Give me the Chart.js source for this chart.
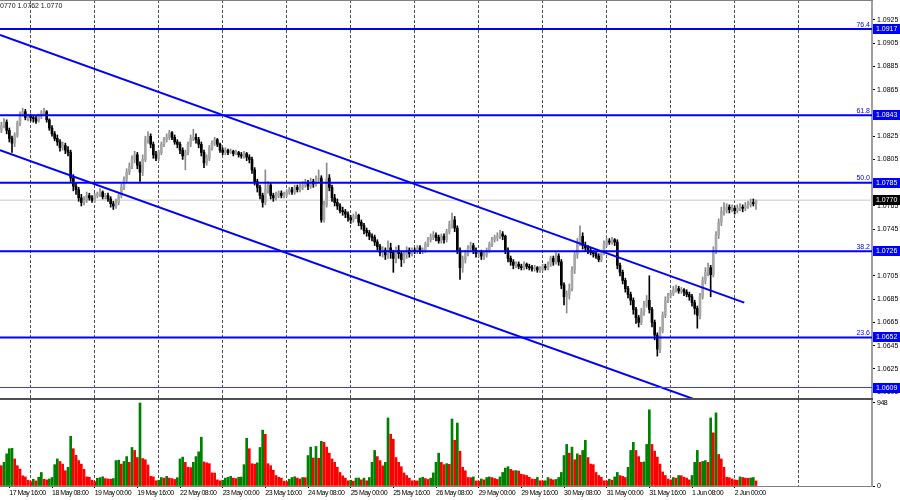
<!DOCTYPE html>
<html>
<head>
<meta charset="utf-8">
<script src="https://cdn.jsdelivr.net/npm/chart.js@4.4.1/dist/chart.umd.min.js"></script>
<style>
  body { margin: 0; background: #fff; }
  #wrap { position: relative; width: 900px; height: 500px; overflow: hidden; background: #fff; }
  #priceChart { position: absolute; left: 0; top: 0; }
  #volChart { position: absolute; left: 0; top: 400px; }
  #sep { position: absolute; left: 0; top: 398px; width: 873px; height: 2px; background: #505050; }
  #topline { position: absolute; left: 0; top: 0; width: 873px; height: 1px; background: #808080; }
</style>
</head>
<body>
<div id="wrap">
  <canvas id="priceChart" width="900" height="398"></canvas>
  <div id="sep"></div>
  <div id="topline"></div>
  <canvas id="volChart" width="900" height="100"></canvas>
</div>
<script>
// EURUSD H1, 17 May 13:00 .. 2 Jun 08:00 (hour index 0 = 18 May 00:00, weekends skipped)
const firstHour = -11;
const firstOpen = 1.0830;

const close = [
  1.0834,1.0837,1.0830,1.0823,1.0819,1.0826,1.0836,1.0844,1.0846,1.0841,1.0842,
  1.0841,1.0840,1.0838,1.0842,1.0845,1.0846,1.0839,1.0832,1.0827,1.0823,1.0820,1.0815,1.0817,1.0813,1.0811,1.0789,1.0782,1.0779,1.0772,1.0768,1.0770,1.0774,1.0772,1.0770,
  1.0774,1.0775,1.0777,1.0773,1.0774,1.0771,1.0767,1.0765,1.0768,1.0774,1.0781,1.0788,1.0794,1.0799,1.0805,1.0809,1.0800,1.0794,1.0805,1.0822,1.0825,1.0818,1.0809,1.0806,
  1.0811,1.0818,1.0822,1.0824,1.0828,1.0824,1.0820,1.0818,1.0813,1.0808,1.0811,1.0818,1.0823,1.0824,1.0822,1.0818,1.0811,1.0802,1.0806,1.0815,1.0819,1.0822,1.0818,1.0813,
  1.0811,1.0813,1.0811,1.0812,1.0810,1.0811,1.0809,1.0808,1.0810,1.0807,1.0805,1.0796,1.0786,1.0781,1.0774,1.0768,1.0779,1.0783,1.0774,1.0772,1.0774,1.0776,1.0774,1.0775,
  1.0777,1.0779,1.0777,1.0781,1.0779,1.0781,1.0783,1.0785,1.0782,1.0786,1.0784,1.0788,1.0789,1.0753,1.0766,1.0789,1.0781,1.0772,1.0768,1.0765,1.0761,1.0760,1.0758,1.0755,
  1.0753,1.0756,1.0757,1.0751,1.0748,1.0744,1.0742,1.0739,1.0738,1.0734,1.0730,1.0725,1.0727,1.0723,1.0729,1.0725,1.0720,1.0727,1.0724,1.0719,1.0723,1.0727,1.0724,1.0727,
  1.0726,1.0729,1.0726,1.0727,1.0732,1.0736,1.0738,1.0740,1.0738,1.0735,1.0739,1.0736,1.0743,1.0749,1.0753,1.0746,1.0727,1.0712,1.0719,1.0724,1.0729,1.0731,1.0727,1.0724,
  1.0725,1.0722,1.0723,1.0727,1.0732,1.0736,1.0738,1.0739,1.0741,1.0739,1.0727,1.0720,1.0717,1.0714,1.0715,1.0713,1.0712,1.0715,1.0713,1.0712,1.0711,1.0712,1.0710,1.0711,
  1.0713,1.0712,1.0715,1.0720,1.0717,1.0722,1.0717,1.0697,1.0687,1.0689,1.0694,1.0710,1.0723,1.0734,1.0739,1.0731,1.0729,1.0727,1.0725,1.0724,1.0722,1.0719,1.0725,1.0732,
  1.0735,1.0734,1.0736,1.0734,1.0714,1.0708,1.0701,1.0694,1.0689,1.0684,1.0676,1.0669,1.0665,1.0674,1.0680,1.0684,1.0676,1.0665,1.0654,1.0642,1.0658,1.0671,1.0684,1.0688,
  1.0690,1.0693,1.0694,1.0692,1.0693,1.0691,1.0689,1.0687,1.0682,1.0677,1.0671,1.0687,1.0701,1.0708,1.0712,1.0706,1.0727,1.0740,1.0751,1.0760,1.0761,1.0764,1.0762,1.0763,
  1.0761,1.0763,1.0764,1.0763,1.0765,1.0766,1.0768,1.0767,1.0770
];

const high = [
  1.0837,1.0840,1.0839,1.0832,1.0825,1.0828,1.0838,1.0846,1.0849,1.0848,1.0844,
  1.0844,1.0843,1.0842,1.0844,1.0847,1.0849,1.0847,1.0840,1.0834,1.0829,1.0826,1.0822,1.0820,1.0819,1.0816,1.0813,1.0792,1.0785,1.0781,1.0775,1.0773,1.0777,1.0776,1.0774,
  1.0776,1.0777,1.0780,1.0778,1.0776,1.0776,1.0773,1.0769,1.0771,1.0776,1.0784,1.0790,1.0797,1.0802,1.0808,1.0812,1.0811,1.0803,1.0809,1.0825,1.0829,1.0827,1.0820,1.0812,
  1.0813,1.0820,1.0824,1.0827,1.0830,1.0829,1.0826,1.0822,1.0820,1.0815,1.0813,1.0820,1.0826,1.0831,1.0827,1.0824,1.0820,1.0813,1.0809,1.0817,1.0821,1.0824,1.0823,1.0819,
  1.0815,1.0815,1.0814,1.0814,1.0813,1.0813,1.0812,1.0811,1.0812,1.0811,1.0809,1.0807,1.0798,1.0788,1.0783,1.0776,1.0796,1.0786,1.0785,1.0776,1.0777,1.0778,1.0778,1.0777,
  1.0779,1.0781,1.0781,1.0783,1.0783,1.0784,1.0786,1.0788,1.0787,1.0789,1.0788,1.0791,1.0796,1.0791,1.0769,1.0802,1.0792,1.0783,1.0775,1.0771,1.0767,1.0764,1.0762,1.0760,
  1.0757,1.0758,1.0760,1.0758,1.0753,1.0750,1.0746,1.0744,1.0741,1.0740,1.0736,1.0732,1.0730,1.0729,1.0735,1.0733,1.0727,1.0730,1.0731,1.0726,1.0726,1.0730,1.0729,1.0729,
  1.0729,1.0731,1.0731,1.0729,1.0734,1.0738,1.0741,1.0743,1.0742,1.0740,1.0741,1.0741,1.0745,1.0752,1.0759,1.0756,1.0748,1.0729,1.0722,1.0727,1.0731,1.0734,1.0733,1.0729,
  1.0727,1.0727,1.0726,1.0729,1.0734,1.0738,1.0740,1.0742,1.0744,1.0743,1.0740,1.0729,1.0722,1.0719,1.0717,1.0717,1.0715,1.0717,1.0716,1.0715,1.0714,1.0714,1.0713,1.0713,
  1.0715,1.0715,1.0717,1.0722,1.0722,1.0725,1.0724,1.0719,1.0699,1.0692,1.0698,1.0713,1.0726,1.0737,1.0748,1.0742,1.0734,1.0731,1.0729,1.0727,1.0726,1.0724,1.0727,1.0735,
  1.0737,1.0737,1.0738,1.0737,1.0736,1.0716,1.0710,1.0703,1.0696,1.0691,1.0686,1.0678,1.0671,1.0677,1.0683,1.0688,1.0705,1.0678,1.0667,1.0656,1.0661,1.0674,1.0687,1.0690,
  1.0692,1.0696,1.0697,1.0696,1.0695,1.0694,1.0693,1.0691,1.0689,1.0684,1.0679,1.0690,1.0704,1.0712,1.0716,1.0714,1.0730,1.0743,1.0754,1.0764,1.0768,1.0767,1.0766,1.0766,
  1.0765,1.0766,1.0767,1.0766,1.0768,1.0769,1.0771,1.0771,1.0770
];

const low = [
  1.0828,1.0832,1.0827,1.0820,1.0811,1.0816,1.0824,1.0834,1.0842,1.0839,1.0838,
  1.0838,1.0837,1.0836,1.0837,1.0840,1.0843,1.0837,1.0830,1.0825,1.0821,1.0817,1.0812,1.0813,1.0810,1.0808,1.0786,1.0778,1.0775,1.0769,1.0765,1.0766,1.0768,1.0770,1.0768,
  1.0768,1.0772,1.0773,1.0771,1.0771,1.0769,1.0764,1.0762,1.0763,1.0766,1.0772,1.0779,1.0786,1.0792,1.0797,1.0802,1.0797,1.0786,1.0791,1.0803,1.0819,1.0815,1.0806,1.0804,
  1.0804,1.0809,1.0816,1.0820,1.0822,1.0822,1.0818,1.0815,1.0810,1.0805,1.0796,1.0809,1.0816,1.0821,1.0819,1.0815,1.0808,1.0798,1.0800,1.0804,1.0813,1.0817,1.0816,1.0811,
  1.0809,1.0809,1.0809,1.0810,1.0808,1.0809,1.0807,1.0806,1.0806,1.0804,1.0802,1.0793,1.0783,1.0777,1.0771,1.0764,1.0766,1.0776,1.0771,1.0769,1.0770,1.0772,1.0772,1.0772,
  1.0773,1.0775,1.0775,1.0775,1.0777,1.0777,1.0779,1.0781,1.0779,1.0780,1.0781,1.0782,1.0785,1.0751,1.0751,1.0764,1.0778,1.0769,1.0765,1.0762,1.0759,1.0757,1.0755,1.0752,
  1.0750,1.0751,1.0754,1.0748,1.0745,1.0741,1.0739,1.0736,1.0735,1.0731,1.0727,1.0722,1.0721,1.0719,1.0720,1.0720,1.0708,1.0716,1.0720,1.0713,1.0716,1.0720,1.0721,1.0722,
  1.0724,1.0724,1.0724,1.0724,1.0725,1.0730,1.0734,1.0736,1.0735,1.0733,1.0733,1.0733,1.0734,1.0741,1.0746,1.0743,1.0724,1.0702,1.0708,1.0716,1.0722,1.0727,1.0724,1.0721,
  1.0721,1.0719,1.0719,1.0721,1.0725,1.0730,1.0734,1.0735,1.0737,1.0736,1.0724,1.0717,1.0714,1.0711,1.0712,1.0711,1.0710,1.0710,1.0711,1.0710,1.0709,1.0709,1.0708,1.0708,
  1.0709,1.0710,1.0710,1.0713,1.0714,1.0715,1.0714,1.0694,1.0680,1.0673,1.0685,1.0692,1.0707,1.0720,1.0731,1.0728,1.0726,1.0724,1.0723,1.0721,1.0720,1.0717,1.0717,1.0723,
  1.0730,1.0732,1.0732,1.0731,1.0711,1.0705,1.0698,1.0691,1.0686,1.0680,1.0672,1.0664,1.0661,1.0663,1.0671,1.0678,1.0673,1.0661,1.0650,1.0636,1.0639,1.0656,1.0669,1.0682,
  1.0686,1.0688,1.0691,1.0690,1.0690,1.0688,1.0687,1.0684,1.0679,1.0672,1.0660,1.0668,1.0685,1.0698,1.0705,1.0687,1.0704,1.0724,1.0737,1.0748,1.0757,1.0759,1.0759,1.0760,
  1.0758,1.0759,1.0761,1.0760,1.0761,1.0763,1.0764,1.0765,1.0762
];

const volume = [
  232,270,367,426,430,309,232,193,116,104,66,
  50,77,58,100,155,77,70,80,97,244,309,280,250,174,213,568,426,350,290,250,190,104,100,66,
  50,88,95,105,85,80,78,85,290,295,250,280,336,270,440,406,325,948,313,300,240,110,105,60,
  66,97,90,110,90,85,75,95,309,330,270,213,210,270,336,390,557,275,265,255,150,148,70,60,
  66,90,100,110,90,85,100,102,244,545,426,255,250,265,440,638,591,255,232,180,120,100,90,55,
  50,77,97,105,90,80,97,95,348,444,320,452,317,510,499,444,375,309,270,213,155,116,90,60,
  66,55,90,92,70,90,60,97,270,406,336,290,230,270,777,591,534,325,270,220,150,120,90,60,
  58,58,90,100,85,75,90,150,270,375,270,244,255,248,765,522,719,398,213,174,97,95,104,58,
  55,80,70,97,104,97,85,75,104,155,205,220,190,174,176,170,135,128,120,100,80,77,97,60,
  58,60,97,80,70,75,97,155,348,475,375,444,300,367,352,406,522,325,250,244,155,120,100,60,
  58,77,66,104,155,120,110,97,213,406,499,406,336,270,275,475,870,475,398,330,250,160,120,80,
  70,97,90,120,118,100,90,70,120,270,406,270,280,290,270,777,607,835,360,309,213,100,95,80,
  70,66,104,97,90,88,92,97,58
];

// axis ticks and labels
const priceTicks = [1.0605,1.0625,1.0645,1.0665,1.0685,1.0705,1.0725,1.0745,1.0765,1.0785,1.0805,1.0825,1.0845,1.0865,1.0885,1.0905,1.0925];
const dayStarts = [0,24,48,72,96,120,144,168,192,216,240,264,288];
const timeTicks = [-8,8,24,40,56,72,88,104,120,136,152,168,184,200,216,232,248,264];
const timeLabels = ['17 May 16:00','18 May 08:00','19 May 00:00','19 May 16:00','22 May 08:00','23 May 00:00',
  '23 May 16:00','24 May 08:00','25 May 00:00','25 May 16:00','26 May 08:00','29 May 00:00','29 May 16:00',
  '30 May 08:00','31 May 00:00','31 May 16:00','1 Jun 08:00','2 Jun 00:00'];

// drawn objects
const fibLevels = [1.0917, 1.0843, 1.0785, 1.0726, 1.0652];
const fibNames = ['76.4', '61.8', '50.0', '38.2', '23.6'];
const supportLevel = 1.0609;
const lastPrice = 1.0770;
const upperTrendX = [-11.5, 267.6];
const upperTrendY = [1.0912, 1.0682];
const lowerTrendX = [-11.5, 250];
const lowerTrendY = [1.0813, 1.0598];

const xMin = -11.5;
const xMax = 315.5;
const FONT = "'Liberation Sans', Arial, sans-serif";
const FS = 7;

const hours = close.map((c, i) => firstHour + i);
const open = close.map((c, i) => (i === 0 ? firstOpen : close[i - 1]));
const up = close.map((c, i) => c >= open[i]);

function hLine(level, color, width, order) {
    return {
        type: 'line',
        data: [{ x: xMin, y: level }, { x: xMax, y: level }],
        borderColor: color,
        borderWidth: width,
        pointRadius: 0,
        order: order
    };
}

function trendLine(xs, ys) {
    return {
        type: 'line',
        data: [{ x: xs[0], y: ys[0] }, { x: xs[1], y: ys[1] }],
        borderColor: '#0000ff',
        borderWidth: 2,
        pointRadius: 0,
        order: 0
    };
}

function gridAxis() {
    return {
        type: 'linear', position: 'bottom', min: xMin, max: xMax, offset: false,
        afterBuildTicks: s => { s.ticks = dayStarts.map(v => ({ value: v })); },
        afterFit: s => { s.height = 0; s.paddingLeft = 0; s.paddingRight = 0; },
        ticks: { display: false },
        grid: { color: '#505050', lineWidth: 1, drawTicks: false, offset: false },
        border: { display: false, dash: [3, 2] }
    };
}

// tighter lettering, like the terminal's small axis font
const tightText = {
    id: 'tightText',
    beforeDraw(chart) {
        chart.ctx.letterSpacing = '-0.5px';
    }
};

const overlay = {
    id: 'overlay',
    afterDraw(chart) {
        const { ctx, chartArea } = chart;
        const y = chart.scales.y;
        ctx.save();
        ctx.font = FS + 'px ' + FONT;

        ctx.fillStyle = '#0000ff';
        ctx.textAlign = 'right';
        ctx.textBaseline = 'bottom';
        fibLevels.forEach((lv, i) => {
            ctx.fillText(fibNames[i], chartArea.right - 2, y.getPixelForValue(lv) - 1);
        });

        const tag = (lv, bg) => {
            const py = Math.round(y.getPixelForValue(lv));
            ctx.fillStyle = bg;
            ctx.fillRect(chartArea.right + 1, py - 5, 27, 10);
            ctx.fillStyle = '#ffffff';
            ctx.textAlign = 'left';
            ctx.textBaseline = 'middle';
            ctx.fillText(lv.toFixed(4), chartArea.right + 4, py);
        };
        fibLevels.forEach(lv => tag(lv, '#0000ff'));
        tag(supportLevel, '#0000ff');
        tag(lastPrice, '#000000');

        ctx.fillStyle = '#202020';
        ctx.textAlign = 'left';
        ctx.textBaseline = 'top';
        ctx.fillText('0770 1.0762 1.0770', 0, 3);
        ctx.restore();
    }
};

new Chart(document.getElementById('priceChart'), {
    type: 'bar',
    data: {
        datasets: [
            ...fibLevels.map(lv => hLine(lv, '#0000ff', 2, 0)),
            hLine(supportLevel, '#3a3aff', 1, 0),
            trendLine(upperTrendX, upperTrendY),
            trendLine(lowerTrendX, lowerTrendY),
            {
                label: 'bodies',
                data: hours.map((h, i) => ({ x: h, y: [open[i], close[i]] })),
                backgroundColor: up.map(u => (u ? '#a8a8a8' : '#000000')),
                barThickness: 2,
                minBarLength: 1,
                grouped: false,
                order: 1
            },
            {
                label: 'wicks',
                data: hours.map((h, i) => ({ x: h, y: [low[i], high[i]] })),
                backgroundColor: up.map(u => (u ? '#8c8c8c' : '#000000')),
                barThickness: 1,
                grouped: false,
                order: 2
            },
            hLine(lastPrice, '#c8c8c8', 1, 3)
        ]
    },
    options: {
        responsive: false,
        animation: false,
        events: [],
        layout: { padding: 0 },
        plugins: { legend: { display: false }, tooltip: { enabled: false } },
        scales: {
            x: {
                type: 'linear', position: 'bottom', min: xMin, max: xMax, offset: false,
                afterFit: s => { s.height = 0; s.paddingLeft = 0; s.paddingRight = 0; },
                ticks: { display: false },
                grid: { display: false, offset: false },
                border: { display: false }
            },
            xg: gridAxis(),
            y: {
                type: 'linear', position: 'right', min: 1.0600, max: 1.0942,
                afterBuildTicks: s => { s.ticks = priceTicks.map(v => ({ value: v })); },
                afterFit: s => { s.width = 28; s.paddingTop = 0; s.paddingBottom = 0; },
                ticks: {
                    autoSkip: false, padding: 2, color: '#000000',
                    font: { family: FONT, size: FS },
                    callback: v => v.toFixed(4)
                },
                grid: { drawOnChartArea: false, drawTicks: true, tickLength: 3, color: '#000000' },
                border: { display: true, color: '#a0a0a0', width: 2 }
            }
        }
    },
    plugins: [overlay]
});

new Chart(document.getElementById('volChart'), {
    type: 'bar',
    data: {
        datasets: [{
            label: 'Volumes',
            data: hours.map((h, i) => ({ x: h, y: volume[i] })),
            backgroundColor: volume.map((v, i) => (i > 0 && v > volume[i - 1] ? '#008000' : '#ff0000')),
            barThickness: 2,
            grouped: false
        }]
    },
    options: {
        responsive: false,
        animation: false,
        events: [],
        layout: { padding: 0 },
        plugins: { legend: { display: false }, tooltip: { enabled: false } },
        scales: {
            x: {
                type: 'linear', position: 'bottom', min: xMin, max: xMax, offset: false,
                afterBuildTicks: s => { s.ticks = timeTicks.map(v => ({ value: v })); },
                afterFit: s => { s.height = 14; s.paddingLeft = 0; s.paddingRight = 0; },
                ticks: {
                    autoSkip: false, maxRotation: 0, align: 'start', padding: 1, color: '#000000',
                    font: { family: FONT, size: FS },
                    callback: (v, i) => timeLabels[i]
                },
                grid: { drawOnChartArea: false, drawTicks: true, tickLength: 2, color: '#000000', offset: false },
                border: { display: true, color: '#808080', width: 1 }
            },
            xg: gridAxis(),
            y: {
                type: 'linear', position: 'right', min: 0, max: 982,
                afterBuildTicks: s => { s.ticks = [{ value: 0 }, { value: 948 }]; },
                afterFit: s => { s.width = 28; s.paddingTop = 0; s.paddingBottom = 0; },
                ticks: {
                    autoSkip: false, padding: 2, color: '#000000',
                    font: { family: FONT, size: FS },
                    callback: v => String(v)
                },
                grid: { drawOnChartArea: false, drawTicks: true, tickLength: 3, color: '#000000' },
                border: { display: true, color: '#a0a0a0', width: 2 }
            }
        }
    },
    plugins: [tightText]
});
</script>
</body>
</html>
